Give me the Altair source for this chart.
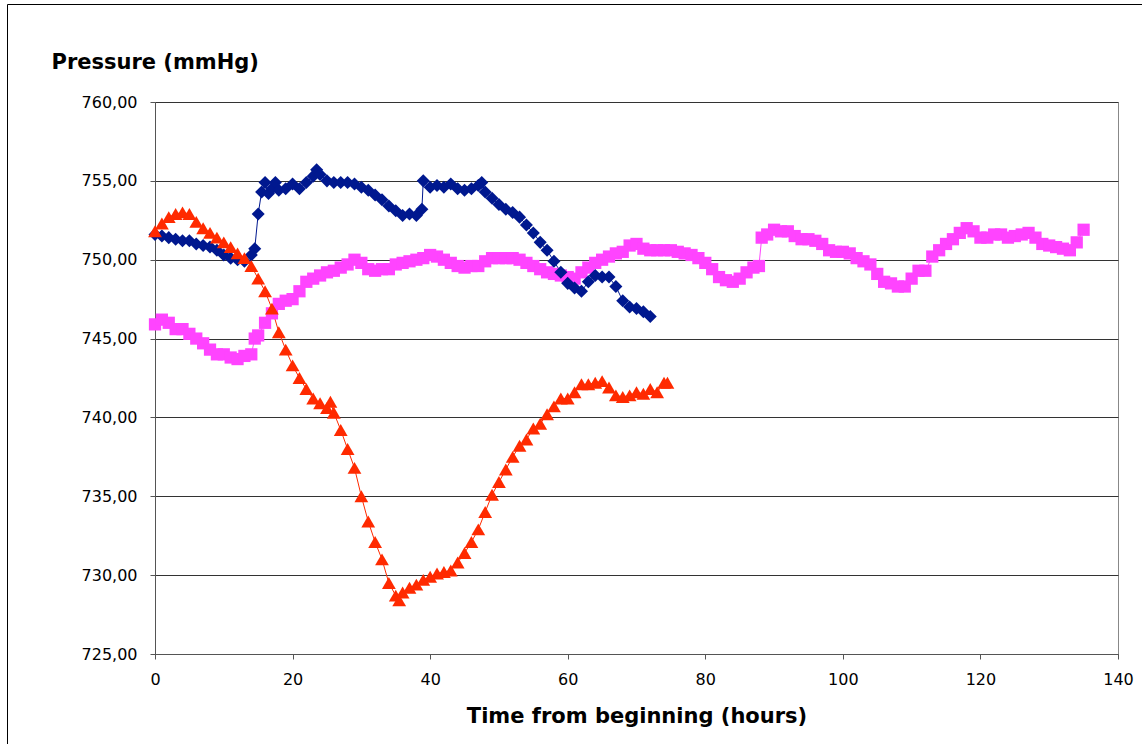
import altair as alt
import pandas as pd

# ---- data ----
blue_t = [0, 1, 2, 3, 4, 5, 6, 7, 8, 9, 10, 11, 12, 13, 14, 14.5, 15, 15.5, 16, 16.5,
          17, 17.5, 18, 19, 20, 21, 22, 23, 23.5, 24, 25, 26, 27, 28, 29, 30, 31, 32,
          33, 34, 35, 36, 37, 38, 38.8, 39, 40, 41, 42, 43, 44, 45, 46, 47, 47.5, 48,
          49, 50, 51, 52, 53, 54, 55, 56, 57, 58, 59, 60, 61, 62, 63, 64, 65, 66, 67,
          68, 69, 70, 71, 72]
blue_p = [751.6, 751.5, 751.4, 751.3, 751.2, 751.2, 751.0, 750.9, 750.8, 750.6, 750.3,
          750.1, 750.0, 749.9, 750.3, 750.7, 752.9, 754.3, 754.9, 754.2, 754.5, 754.9,
          754.4, 754.5, 754.8, 754.5, 754.9, 755.3, 755.7, 755.4, 755.0, 754.9, 754.9,
          754.9, 754.8, 754.6, 754.4, 754.1, 753.8, 753.4, 753.1, 752.8, 752.9, 752.8,
          753.2, 755.0, 754.6, 754.7, 754.6, 754.8, 754.5, 754.4, 754.5, 754.7, 754.9,
          754.3, 753.9, 753.5, 753.2, 753.0, 752.7, 752.2, 751.7, 751.1, 750.6, 749.9,
          749.2, 748.5, 748.2, 748.0, 748.6, 749.0, 748.9, 748.9, 748.3, 747.4, 747.0,
          746.9, 746.7, 746.4]

red_t = [0, 1, 2, 3, 4, 5, 6, 7, 8, 9, 10, 11, 12, 13, 14, 15, 16, 17, 18, 19, 20, 21,
         22, 23, 24, 25, 25.5, 26, 27, 28, 29, 30, 31, 32, 33, 34, 35, 35.5, 36, 37, 38,
         39, 40, 41, 42, 43, 44, 45, 46, 47, 48, 49, 50, 51, 52, 53, 54, 55, 56, 57, 58,
         59, 60, 61, 62, 63, 64, 65, 66, 67, 68, 69, 70, 71, 72, 73, 74, 74.5]
red_p = [751.8, 752.3, 752.7, 752.9, 753.0, 752.9, 752.4, 752.0, 751.7, 751.4, 751.1,
         750.8, 750.4, 750.1, 749.6, 748.8, 748.0, 746.9, 745.4, 744.3, 743.3, 742.5,
         741.8, 741.2, 740.9, 740.6, 741.0, 740.3, 739.2, 738.0, 736.8, 735.0, 733.4,
         732.1, 731.0, 729.5, 728.7, 728.4, 728.9, 729.2, 729.4, 729.7, 729.9, 730.1,
         730.2, 730.3, 730.8, 731.4, 732.1, 732.9, 734.0, 735.1, 735.9, 736.7, 737.5,
         738.2, 738.6, 739.3, 739.6, 740.2, 740.7, 741.2, 741.2, 741.6, 742.1, 742.1,
         742.2, 742.3, 741.9, 741.4, 741.3, 741.4, 741.6, 741.5, 741.8, 741.6, 742.2, 742.2]

mag_t = [0, 1, 2, 3, 4, 5, 6, 7, 8, 9, 10, 11, 12, 13, 14, 14.5, 15, 16, 17, 18, 19, 20,
         21, 22, 23, 24, 25, 26, 27, 28, 29, 30, 31, 32, 33, 34, 35, 36, 37, 38, 39, 40,
         41, 42, 43, 44, 45, 46, 47, 48, 49, 50, 51, 52, 53, 54, 55, 56, 57, 58, 59, 60,
         61, 62, 63, 64, 65, 66, 67, 68, 69, 70, 71, 72, 73, 74, 75, 76, 77, 78, 79, 80,
         81, 82, 83, 84, 85, 86, 87, 87.8, 88.2, 89, 90, 91, 92, 93, 94, 95, 96, 97, 98,
         99, 100, 101, 102, 103, 104, 105, 106, 107, 108, 109, 110, 111, 112, 113, 114,
         115, 116, 117, 118, 119, 120, 121, 122, 123, 124, 125, 126, 127, 128, 129, 130,
         131, 132, 133, 134, 135]
mag_p = [745.9, 746.2, 746.0, 745.6, 745.6, 745.3, 745.0, 744.7, 744.3, 744.0, 744.0,
         743.8, 743.7, 743.9, 744.0, 745.0, 745.2, 746.0, 746.6, 747.2, 747.4, 747.5,
         748.0, 748.6, 748.8, 749.0, 749.2, 749.3, 749.5, 749.7, 750.0, 749.8, 749.4,
         749.3, 749.4, 749.4, 749.7, 749.8, 749.9, 750.0, 750.1, 750.3, 750.2, 750.0,
         749.8, 749.6, 749.5, 749.6, 749.6, 749.9, 750.1, 750.1, 750.1, 750.1, 750.0,
         749.8, 749.6, 749.4, 749.2, 749.1, 749.0, 748.9, 748.8, 749.2, 749.5, 749.8,
         750.0, 750.2, 750.4, 750.5, 750.9, 751.0, 750.7, 750.6, 750.6, 750.6, 750.6,
         750.5, 750.4, 750.3, 750.1, 749.8, 749.4, 748.9, 748.7, 748.6, 748.8, 749.2,
         749.5, 749.6, 751.4, 751.6, 751.9, 751.8, 751.8, 751.5, 751.3, 751.3, 751.2,
         751.0, 750.6, 750.5, 750.5, 750.4, 750.1, 749.9, 749.7, 749.1, 748.6, 748.5,
         748.3, 748.3, 748.8, 749.3, 749.3, 750.2, 750.6, 751.0, 751.3, 751.7, 752.0,
         751.8, 751.4, 751.4, 751.6, 751.6, 751.4, 751.5, 751.6, 751.7, 751.4, 751.0,
         750.9, 750.8, 750.7, 750.6, 751.1, 751.9]

series_names = ["Magenta", "Blue", "Red"]
series_colors = ["#FF44FF", "#00188F", "#FF2A00"]
series_shapes = ["square", "diamond", "triangle-up"]
series_sizes = [150, 190, 210]

x_ticks = [0, 20, 40, 60, 80, 100, 120, 140]
y_ticks = [725, 730, 735, 740, 745, 750, 755, 760]

rows = []
for name, ts, ps in [("Magenta", mag_t, mag_p), ("Blue", blue_t, blue_p), ("Red", red_t, red_p)]:
    for t, p in zip(ts, ps):
        rows.append({"series": name, "t": t, "p": p})
df = pd.DataFrame(rows)

W, H = 963, 552
PAD = {"left": 155, "top": 102, "right": 24, "bottom": 90}

x_enc = alt.X("t:Q",
              scale=alt.Scale(domain=[0, 140], nice=False),
              axis=alt.Axis(values=x_ticks, grid=False, title="Time from beginning (hours)",
                            titleY=68, titleBaseline="alphabetic",
                            tickSize=5, labelPadding=12, labelFlush=False))
y_enc = alt.Y("p:Q",
              scale=alt.Scale(domain=[725, 760], nice=False, zero=False),
              axis=alt.Axis(values=y_ticks, grid=True, gridColor="#333333", gridWidth=1,
                            labelExpr="replace(format(datum.value, '.2f'), '.', ',')",
                            title="Pressure (mmHg)", titleAngle=0, titleAlign="left",
                            titleBaseline="alphabetic", titleX=-104, titleY=-34,
                            tickSize=5, labelPadding=13))
color_enc = alt.Color("series:N", scale=alt.Scale(domain=series_names, range=series_colors), legend=None)
shape_enc = alt.Shape("series:N", scale=alt.Scale(domain=series_names, range=series_shapes), legend=None)
size_enc = alt.Size("series:N", scale=alt.Scale(domain=series_names, range=series_sizes), legend=None)

base = alt.Chart(df)
lines = base.mark_line(strokeWidth=1).encode(x=x_enc, y=y_enc, color=color_enc)
points = base.mark_point(filled=True, opacity=1, strokeWidth=0).encode(
    x="t:Q", y="p:Q", color=color_enc, shape=shape_enc, size=size_enc)

frame_df = pd.DataFrame({"k": [0]})
frame_top = alt.Chart(frame_df).mark_rule(color="black", strokeWidth=1).encode(
    x=alt.value(-147.5), x2=alt.value(1000), y=alt.value(-97.5))
frame_left = alt.Chart(frame_df).mark_rule(color="black", strokeWidth=1).encode(
    x=alt.value(-147.5), y=alt.value(-97.5), y2=alt.value(700))

chart = alt.layer(lines, points, frame_top, frame_left).properties(
    width=W, height=H,
    autosize=alt.AutoSizeParams(type="none"),
    padding=PAD,
    background="white",
).configure_view(
    stroke="#888888", strokeWidth=1
).configure_axis(
    labelFont="DejaVu Sans", labelFontSize=16, labelColor="#000000",
    titleFont="DejaVu Sans", titleFontSize=21, titleFontWeight="bold", titleColor="#000000",
    domainColor="#555555", tickColor="#555555", domainWidth=1, tickWidth=1,
)

chart.save("out.html", embed_options={"renderer": "svg", "actions": False})
